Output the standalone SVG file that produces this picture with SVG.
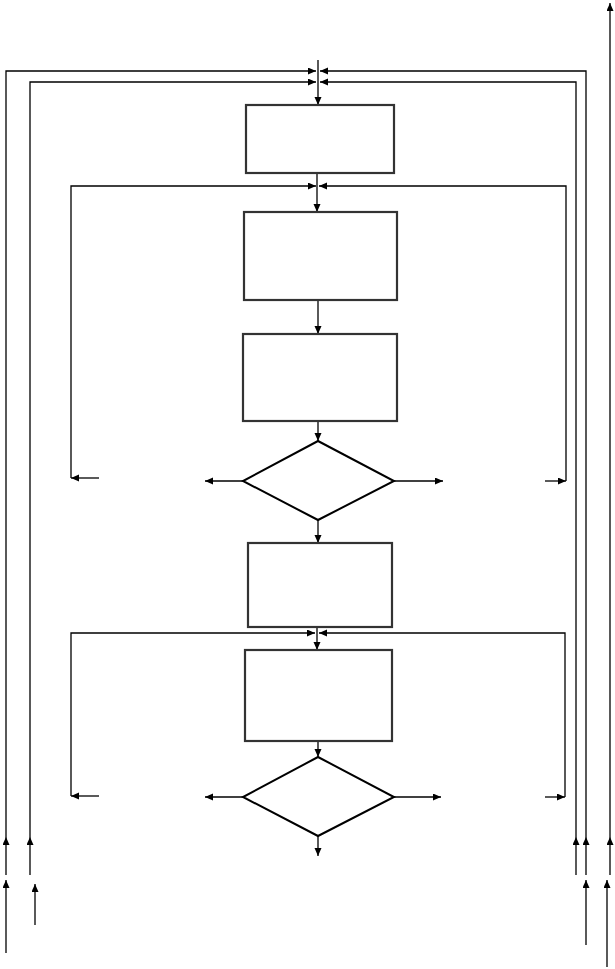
<svg xmlns="http://www.w3.org/2000/svg" width="615" height="969" viewBox="0 0 615 969">
<style>
.c{fill:none;stroke:#000;stroke-width:1.3}
.b{fill:#fff;stroke:#333;stroke-width:2.2}
.d{fill:#fff;stroke:#000;stroke-width:2}
</style>
<defs>
<marker id="a" markerUnits="userSpaceOnUse" markerWidth="9" markerHeight="8" refX="8" refY="3.5" orient="auto">
<path d="M0,0 L8,3.5 L0,7 z" fill="#000"/>
</marker>
</defs>
<rect width="615" height="969" fill="#fff"/>
<g id="connectors">
<!-- top entry -->
<path class="c" d="M318,60 L318,105" marker-end="url(#a)"/>
<!-- outer frame left -->
<path class="c" d="M6,875 L6,837" marker-end="url(#a)"/>
<path class="c" d="M6,837 L6,71 L316,71" marker-end="url(#a)"/>
<!-- inner frame left -->
<path class="c" d="M30,875 L30,837" marker-end="url(#a)"/>
<path class="c" d="M30,837 L30,82 L316,82" marker-end="url(#a)"/>
<!-- outer frame right -->
<path class="c" d="M586,875 L586,837" marker-end="url(#a)"/>
<path class="c" d="M586,837 L586,71 L320,71" marker-end="url(#a)"/>
<!-- inner frame right -->
<path class="c" d="M576,875 L576,837" marker-end="url(#a)"/>
<path class="c" d="M576,837 L576,82 L320,82" marker-end="url(#a)"/>
<!-- far right -->
<path class="c" d="M610,875 L610,837" marker-end="url(#a)"/>
<path class="c" d="M610,837 L610,3" marker-end="url(#a)"/>
<!-- lower loose arrows -->
<path class="c" d="M6,953 L6,880" marker-end="url(#a)"/>
<path class="c" d="M35,925 L35,884" marker-end="url(#a)"/>
<path class="c" d="M586,945 L586,880" marker-end="url(#a)"/>
<path class="c" d="M607,967 L607,880" marker-end="url(#a)"/>
<!-- box1 to box2 -->
<path class="c" d="M317,173 L317,212" marker-end="url(#a)"/>
<!-- loop 1 -->
<path class="c" d="M99,478 L71,478" marker-end="url(#a)"/>
<path class="c" d="M71,478 L71,186 L316,186" marker-end="url(#a)"/>
<path class="c" d="M545,481 L566,481" marker-end="url(#a)"/>
<path class="c" d="M566,481 L566,186 L319,186" marker-end="url(#a)"/>
<!-- box2 to box3 -->
<path class="c" d="M318,300 L318,334" marker-end="url(#a)"/>
<!-- box3 to diamond1 -->
<path class="c" d="M318,421 L318,441" marker-end="url(#a)"/>
<!-- diamond1 sides -->
<path class="c" d="M243,481 L205,481" marker-end="url(#a)"/>
<path class="c" d="M394,481 L443,481" marker-end="url(#a)"/>
<!-- diamond1 to box4 -->
<path class="c" d="M318,520 L318,543" marker-end="url(#a)"/>
<!-- box4 to box5 -->
<path class="c" d="M317,627 L317,650" marker-end="url(#a)"/>
<!-- loop 2 -->
<path class="c" d="M99,796 L71,796" marker-end="url(#a)"/>
<path class="c" d="M71,796 L71,633 L315,633" marker-end="url(#a)"/>
<path class="c" d="M545,797 L565,797" marker-end="url(#a)"/>
<path class="c" d="M565,797 L565,633 L319,633" marker-end="url(#a)"/>
<!-- box5 to diamond2 -->
<path class="c" d="M318,741 L318,757" marker-end="url(#a)"/>
<!-- diamond2 sides -->
<path class="c" d="M243,797 L205,797" marker-end="url(#a)"/>
<path class="c" d="M394,797 L441,797" marker-end="url(#a)"/>
<!-- diamond2 exit -->
<path class="c" d="M318,836 L318,856" marker-end="url(#a)"/>
</g>
<g id="box1"><rect class="b" x="246" y="105" width="148" height="68"/></g>
<g id="box2"><rect class="b" x="244" y="212" width="153" height="88"/></g>
<g id="box3"><rect class="b" x="243" y="334" width="154" height="87"/></g>
<g id="decision1"><polygon class="d" points="318,441 394,481 318,520 243,481"/></g>
<g id="box4"><rect class="b" x="248" y="543" width="144" height="84"/></g>
<g id="box5"><rect class="b" x="245" y="650" width="147" height="91"/></g>
<g id="decision2"><polygon class="d" points="318,757 394,797 318,836 243,797"/></g>
</svg>
